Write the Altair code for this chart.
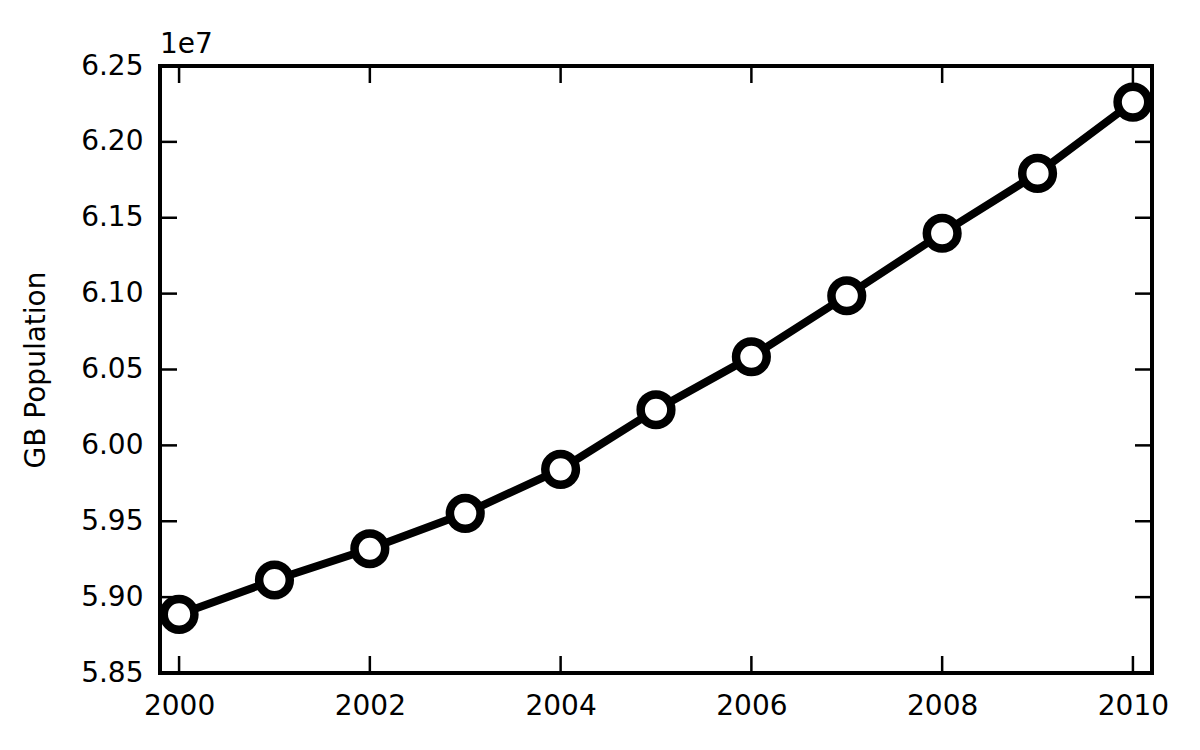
import altair as alt
import pandas as pd

years = [2000, 2001, 2002, 2003, 2004, 2005, 2006, 2007, 2008, 2009, 2010]
population = [58886000, 59113000, 59319000, 59552000, 59842000, 60235000,
              60584000, 60986000, 61398000, 61792000, 62262000]
x_ticks = [2000, 2002, 2004, 2006, 2008, 2010]
y_ticks = [58500000, 59000000, 59500000, 60000000, 60500000, 61000000,
           61500000, 62000000, 62500000]

W, H = 992, 607
FONT = "DejaVu Sans"
FS = 28

df = pd.DataFrame({"year": years, "population": population})
xt = pd.DataFrame({"year": x_ticks})
yt = pd.DataFrame({"population": y_ticks})

xscale = alt.Scale(domain=[1999.8, 2010.2], nice=False, zero=False)
yscale = alt.Scale(domain=[58500000, 62500000], nice=False, zero=False)

xaxis = alt.Axis(values=x_ticks, format="d", tickSize=0, domain=False, grid=False,
                 labelFont=FONT, labelFontSize=FS, labelColor="black",
                 labelPadding=19, labelFlush=False, title=None)
yaxis = alt.Axis(values=y_ticks, labelExpr="format(datum.value / 1e7, '.2f')",
                 tickSize=0, domain=False, grid=False,
                 labelFont=FONT, labelFontSize=FS, labelColor="black",
                 labelPadding=17, labelFlush=False,
                 title="GB Population", titleFont=FONT, titleFontSize=FS,
                 titleFontWeight="normal", titleColor="black", titlePadding=30)

base = alt.Chart(df)

line = base.mark_line(color="black", strokeWidth=8).encode(
    x=alt.X("year:Q", scale=xscale, axis=xaxis),
    y=alt.Y("population:Q", scale=yscale, axis=yaxis),
)
points = base.mark_point(filled=True, fill="white", stroke="black",
                         strokeWidth=8.5, size=940, opacity=1).encode(
    x=alt.X("year:Q", scale=xscale),
    y=alt.Y("population:Q", scale=yscale),
)

# inward ticks (bottom, top, left, right)
tick_bottom = alt.Chart(xt).mark_rule(color="black", strokeWidth=2.5).encode(
    x=alt.X("year:Q", scale=xscale), y=alt.value(H), y2=alt.value(H - 17))
tick_top = alt.Chart(xt).mark_rule(color="black", strokeWidth=2.5).encode(
    x=alt.X("year:Q", scale=xscale), y=alt.value(0), y2=alt.value(17))
tick_left = alt.Chart(yt).mark_rule(color="black", strokeWidth=2.5).encode(
    y=alt.Y("population:Q", scale=yscale), x=alt.value(0), x2=alt.value(17))
tick_right = alt.Chart(yt).mark_rule(color="black", strokeWidth=2.5).encode(
    y=alt.Y("population:Q", scale=yscale), x=alt.value(W), x2=alt.value(W - 17))

frame = alt.Chart(pd.DataFrame({"f": [0]})).mark_rect(
    fill=None, fillOpacity=0, stroke="black", strokeWidth=4
).encode(x=alt.value(0), x2=alt.value(W), y=alt.value(0), y2=alt.value(H))

offset_text = alt.Chart(pd.DataFrame({"t": ["1e7"]})).mark_text(
    font=FONT, fontSize=FS, align="left", baseline="alphabetic", color="black"
).encode(text="t:N", x=alt.value(0), y=alt.value(-13))

chart = alt.layer(tick_bottom, tick_top, tick_left, tick_right, frame, line,
                  points, offset_text).properties(
    width=W, height=H,
    background="white",
    autosize=alt.AutoSizeParams(type="none"),
    padding={"left": 152, "top": 58, "right": 40, "bottom": 69},
).configure_view(stroke=None)

chart.save("out.html", embed_options={"renderer": "svg", "actions": False})
